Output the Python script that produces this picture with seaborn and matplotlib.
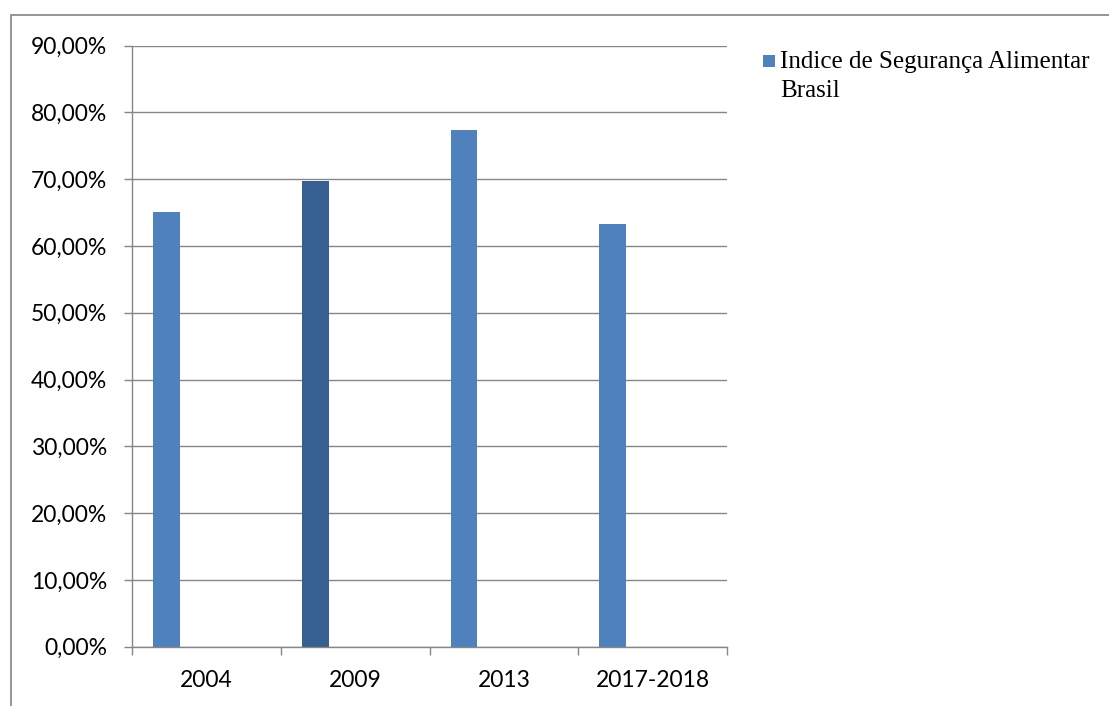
import matplotlib
matplotlib.use("Agg")
import matplotlib.pyplot as plt
import seaborn as sns
import pandas as pd
from matplotlib.ticker import FuncFormatter, FixedLocator
from matplotlib.patches import Rectangle
from matplotlib.lines import Line2D

# ---- data ----
categories = ["2004", "2009", "2013", "2017-2018"]
values = [65.1, 69.8, 77.4, 63.3]
bar_colors = ["#4F81BD", "#366092", "#4F81BD", "#4F81BD"]
legend_label = "Indice de Segurança Alimentar\nBrasil"
y_ticks = [0, 10, 20, 30, 40, 50, 60, 70, 80, 90]

sns.set_theme(style="white")
plt.rcParams["font.family"] = ["Lato", "DejaVu Sans"]

W, H = 1109, 706
fig = plt.figure(figsize=(W / 100, H / 100), dpi=100)
ax = fig.add_axes([132 / W, 1 - 646.7 / H, (727 - 132) / W, (646.7 - 45.7) / H])

df = pd.DataFrame({"cat": categories, "val": values})
sns.barplot(data=df, x="cat", y="val", hue="cat", palette=bar_colors,
            width=0.18, legend=False, ax=ax, saturation=1)

# Excel-style offset of the single series within each category slot
offset = -0.268
for p in ax.patches:
    p.set_x(p.get_x() + offset)
    p.set_linewidth(0)

gray = "#868686"
ax.set_xlim(-0.5, len(categories) - 0.5)
ax.set_ylim(0, 90)
ax.yaxis.set_major_locator(FixedLocator(y_ticks))
ax.yaxis.set_major_formatter(FuncFormatter(lambda v, _: f"{v:.2f}%".replace(".", ",")))
ax.grid(axis="y", color=gray, linewidth=1.0)
ax.set_axisbelow(True)

for s in ["top", "right"]:
    ax.spines[s].set_visible(False)
for s in ["left", "bottom"]:
    ax.spines[s].set_color(gray)
    ax.spines[s].set_linewidth(1.0)

ax.set_xlabel("")
ax.set_ylabel("")
ax.tick_params(axis="y", which="major", left=True, length=6, width=1.0,
               color=gray, pad=12, labelsize=16.5, labelcolor="black")
ax.xaxis.set_minor_locator(FixedLocator([i - 0.5 for i in range(len(categories) + 1)]))
ax.tick_params(axis="x", which="major", bottom=False, length=0, pad=17,
               labelsize=16.5, labelcolor="black")
ax.tick_params(axis="x", which="minor", bottom=True, length=6, width=1.0,
               color=gray, direction="out")

# legend drawn in figure space
fig.patches.append(Rectangle((763 / W, 1 - 67 / H), 12 / W, 12 / H,
                             transform=fig.transFigure, facecolor="#4F81BD",
                             edgecolor="none"))
fig.text(780 / W, 1 - 51 / H, legend_label, ha="left", va="top",
         fontsize=18, family=["Liberation Serif", "DejaVu Serif"],
         color="black", linespacing=1.4)

# outer frame (top and left)
fig.add_artist(Line2D([11 / W, 1.0], [1 - 15 / H, 1 - 15 / H],
                      transform=fig.transFigure, color="#8c8c8c", linewidth=1.3))
fig.add_artist(Line2D([11 / W, 11 / W], [0, 1 - 15 / H],
                      transform=fig.transFigure, color="#8c8c8c", linewidth=1.3))

fig.savefig("out.png", dpi=100)
